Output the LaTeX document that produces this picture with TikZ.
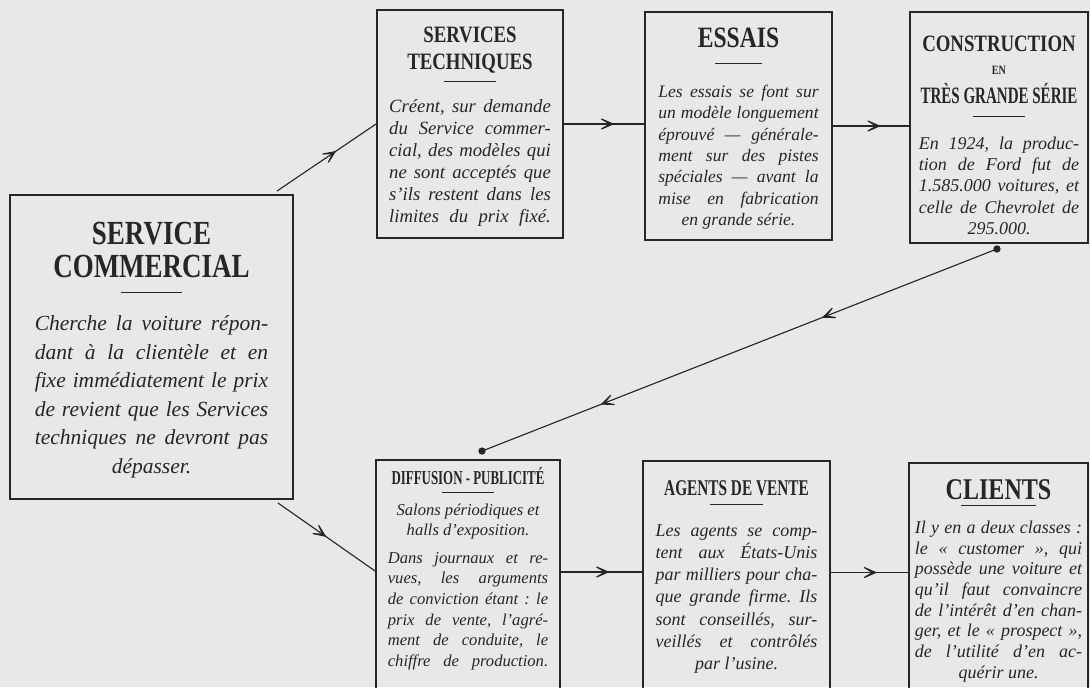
\documentclass[tikz,border=0pt]{standalone}
\usepackage{fontspec}
\setmainfont{Liberation Serif}
\newfontfamily\titlefont[FakeStretch=0.8]{Liberation Serif}
\usetikzlibrary{arrows.meta,decorations.markings,calc}
\definecolor{papier}{RGB}{232,232,230}
\definecolor{encre}{RGB}{38,38,38}
% titre : taille, interligne, premiere ligne de base, profondeur, texte
\newcommand\titre[5]{{\centering\titlefont\bfseries\fontsize{#1}{#2}\selectfont\rule{0pt}{#3}#5\rule[-#4]{0pt}{#4}\par}}
\newcommand\filet[2]{\par\nointerlineskip\centerline{\rule{#1}{.7pt}}\vskip#2\relax}
\newcommand\corps[2]{\itshape\fontsize{#1}{#2}\selectfont\noindent}
\newcommand\plein{\parfillskip=0pt\par}
\frenchspacing
\begin{document}
\begin{tikzpicture}[x=0.025cm,y=-0.025cm,line cap=butt,line join=miter]
	\tikzset{fleche/.tip={Stealth[length=15pt,width=13pt,inset=11pt]},
		cadre/.style={draw=encre,line width=1.3pt,inner sep=0pt},
		texte/.style={inner sep=0pt,anchor=north,text=encre,align=justify,
			execute at begin node={\setlength\parindent{0pt}\tolerance=9999\hyphenpenalty=10000\hbadness=10000}},
		lien/.style={draw=encre,line width=.8pt},
		pointe/.style={postaction={decorate,decoration={markings,mark=at position #1 with {\arrow{fleche}}}}}
	}
	\useasboundingbox (0,0) rectangle (1090,687);
	\fill[papier] (0,0) rectangle (1090,687);
	\node[cadre,minimum width=7.075cm,minimum height=7.6cm] (sc) at (151.5,347) {};
	\node[cadre,minimum width=4.65cm,minimum height=5.7cm] (st) at (470,124) {};
	\node[cadre,minimum width=4.675cm,minimum height=5.7cm] (es) at (738.5,126) {};
	\node[cadre,minimum width=4.45cm,minimum height=5.775cm] (co) at (999,127.5) {};
	\node[cadre,minimum width=4.6cm,minimum height=6cm] (di) at (468,580) {};
	\node[cadre,minimum width=4.675cm,minimum height=5.975cm] (ag) at (736.5,580.5) {};
	\node[cadre,minimum width=4.475cm,minimum height=5.925cm] (cl) at (998.5,581.5) {};
	\node[texte,text width=166pt] (sc-t) at (sc.north) {\titre{24}{23.5}{35.6pt}{10.7pt}{SERVICE\\COMMERCIAL}\filet{43pt}{6pt}\corps{15.3}{20.3}Cherche la voiture répon-\linebreak dant à la clientèle et en\linebreak fixe immédiatement le prix\linebreak de revient que les Services\linebreak techniques ne devront pas\plein\centerline{dépasser.}};
	\node[texte,text width=115pt] (st-t) at (st.north) {\titre{16.7}{19.2}{23.5pt}{8.5pt}{SERVICES\\TECHNIQUES}\filet{37pt}{5.8pt}\corps{13.3}{15.6}Créent, sur demande\linebreak du Service commer-\linebreak cial, des modèles qui\linebreak ne sont acceptés que\linebreak s'ils restent dans les\linebreak limites du prix fixé.\plein};
	\node[texte,text width=114pt] (es-t) at (es.north) {\titre{21}{22}{25.6pt}{11.4pt}{ESSAIS}\filet{33pt}{8.3pt}\corps{12.5}{15.2}Les essais se font sur\linebreak un modèle longuement\linebreak éprouvé — générale-\linebreak ment sur des pistes\linebreak spéciales — avant la\linebreak mise en fabrication\plein\centerline{en grande série.}};
	\node[texte,text width=114pt] (co-t) at (co.north) {\titre{16.7}{18.5}{28.5pt}{9.2pt}{CONSTRUCTION\\[-2pt]{\fontsize{9}{9}\selectfont EN}\\[2pt]\scalebox{0.8}[1]{TRÈS GRANDE SÉRIE}}\filet{37pt}{7.7pt}\corps{12.8}{15.1}En 1924, la produc-\linebreak tion de Ford fut de\linebreak 1.585.000 voitures, et\linebreak celle de Chevrolet de\plein\centerline{295.000.}};
	\node[texte,text width=114pt] (di-t) at (di.north) {\titre{14}{14}{17.8pt}{5.7pt}{\scalebox{0.82}[1]{DIFFUSION - PUBLICITÉ}}\filet{37pt}{1pt}\corps{11.8}{14.6}{\centering Salons périodiques et\\halls d'exposition.\par}\vskip5pt\noindent Dans journaux et re-\linebreak vues, les arguments\linebreak de conviction étant~: le\linebreak prix de vente, l'agré-\linebreak ment de conduite, le\linebreak chiffre de production.\plein};
	\node[texte,text width=115pt] (ag-t) at (ag.north) {\titre{16}{15}{24.9pt}{6.4pt}{\scalebox{0.85}[1]{AGENTS DE VENTE}}\filet{37pt}{6.2pt}\corps{12.8}{15.8}Les agents se comp-\linebreak tent aux États-Unis\linebreak par milliers pour cha-\linebreak que grande firme. Ils\linebreak sont conseillés, sur-\linebreak veillés et contrôlés\plein\centerline{par l'usine.}};
	\node[texte,text width=119pt] (cl-t) at (cl.north) {\titre{21.4}{22}{26.3pt}{4.3pt}{CLIENTS}\filet{53pt}{4.5pt}\corps{12.8}{14.7}Il y en a deux classes~:\linebreak le « customer », qui\linebreak possède une voiture et\linebreak qu'il faut convaincre\linebreak de l'intérêt d'en chan-\linebreak ger, et le « prospect »,\linebreak de l'utilité d'en ac-\plein\centerline{quérir une.}};
	\draw[lien,pointe=.6] ($(sc.north east)+(-17,-3)$) -- (st.west);
	\draw[lien,pointe=.5] ($(sc.south east)+(-16,3)$) -- ($(di.west)+(0,-9)$);
	\draw[lien,pointe=.63] (st.east) -- (st.east -| es.west);
	\draw[lien,pointe=.63] (es.east) -- (es.east -| co.west);
	\draw[lien,pointe=.6] ($(di.east)+(0,-8)$) -- ($(di.east -| ag.west)+(0,-8)$);
	\draw[lien,pointe=.6] ($(ag.east)+(0,-8)$) -- ($(ag.east -| cl.west)+(0,-8)$);
	\coordinate (depart) at ($(co.south)+(-2,5)$);
	\coordinate (arrivee) at ($(di.north)+(14,-8)$);
	\draw[lien,pointe=.34,pointe=.77] (depart) -- (arrivee);
	\fill[encre] (depart) circle (2.6pt) (arrivee) circle (2.6pt);
\end{tikzpicture}
\end{document}
